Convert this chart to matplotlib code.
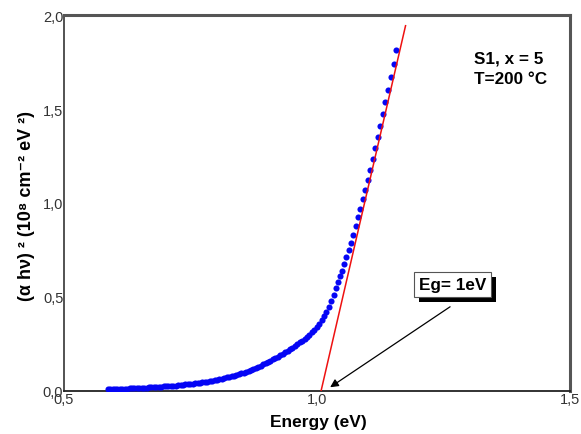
import matplotlib
matplotlib.use("Agg")
import matplotlib.pyplot as plt
import matplotlib.patheffects as pe
from matplotlib.ticker import FixedLocator, FuncFormatter

plt.rcParams['font.family'] = ['Liberation Sans', 'DejaVu Sans']

# ---- data ----
energy_low = [0.5865, 0.5913, 0.5961, 0.6009, 0.6057, 0.6105, 0.6153, 0.6201, 0.6249, 0.6297,
              0.6345, 0.6393, 0.6441, 0.6489, 0.6537, 0.6585, 0.6633, 0.6681, 0.6729, 0.6777,
              0.6825, 0.6873, 0.6921, 0.6969, 0.7017, 0.7065, 0.7113, 0.7161, 0.7209, 0.7257,
              0.7305, 0.7353, 0.7401, 0.7449, 0.7497, 0.7545, 0.7593, 0.7641, 0.7689, 0.7737,
              0.7785, 0.7833, 0.7881, 0.7929, 0.7977, 0.8025, 0.8073, 0.8121, 0.8169, 0.8217,
              0.8265, 0.8313, 0.8361, 0.8409, 0.8457, 0.8505, 0.8553, 0.8601, 0.8649, 0.8697,
              0.8745, 0.8793, 0.8841, 0.8889, 0.8937, 0.8985, 0.9033, 0.9081, 0.9129, 0.9177,
              0.9225, 0.9273, 0.9321, 0.9369, 0.9417, 0.9465, 0.9513, 0.9561, 0.9609, 0.9657,
              0.9705, 0.9753, 0.9801, 0.9849, 0.9897, 0.9945, 0.9993, 1.0041, 1.0089, 1.0137,
              1.0185, 1.0233, 1.0281, 1.0329, 1.0377, 1.0415]
absorb_low = [0.010, 0.010, 0.011, 0.011, 0.012, 0.012, 0.012, 0.013, 0.013, 0.014,
              0.014, 0.015, 0.015, 0.016, 0.016, 0.017, 0.018, 0.019, 0.020, 0.020,
              0.021, 0.022, 0.023, 0.024, 0.025, 0.026, 0.027, 0.028, 0.029, 0.031,
              0.032, 0.033, 0.035, 0.036, 0.038, 0.039, 0.041, 0.043, 0.045, 0.046,
              0.048, 0.050, 0.052, 0.055, 0.057, 0.060, 0.063, 0.066, 0.069, 0.072,
              0.075, 0.079, 0.082, 0.086, 0.090, 0.094, 0.098, 0.102, 0.107, 0.112,
              0.117, 0.123, 0.129, 0.135, 0.141, 0.147, 0.154, 0.161, 0.168, 0.175,
              0.182, 0.190, 0.198, 0.206, 0.214, 0.222, 0.231, 0.240, 0.249, 0.258,
              0.268, 0.278, 0.289, 0.300, 0.312, 0.326, 0.341, 0.357, 0.376, 0.397,
              0.421, 0.448, 0.478, 0.511, 0.549, 0.578]
energy_high = [1.0453, 1.0492, 1.0537, 1.0577, 1.0624, 1.0669, 1.0715, 1.0762, 1.0807, 1.0852,
               1.0900, 1.0951, 1.1004, 1.1049, 1.1102, 1.1148, 1.1201, 1.1254, 1.1305, 1.1352,
               1.1404, 1.1457, 1.1516, 1.1569]
absorb_high = [0.610, 0.640, 0.676, 0.711, 0.752, 0.789, 0.831, 0.879, 0.924, 0.968,
               1.021, 1.071, 1.122, 1.176, 1.232, 1.291, 1.349, 1.411, 1.472, 1.539,
               1.603, 1.670, 1.741, 1.814]
fit_x = [1.008, 1.175]
fit_y = [0.0, 1.943]
x_ticks = [0.5, 1.0, 1.5]
y_ticks = [0.0, 0.5, 1.0, 1.5, 2.0]
arrow_tail = (1.263, 0.448)
arrow_head = (1.026, 0.020)

energy = energy_low + energy_high
absorb = absorb_low + absorb_high

fig = plt.figure(figsize=(5.81, 4.35), dpi=100)
ax = fig.add_axes([64/581, 1-392/435, (570-64)/581, (392-16)/435])

ax.plot(energy, absorb, linestyle='none', marker='o', markersize=4.4,
        color='#0505f5', markeredgewidth=0, zorder=3)
ax.plot(fit_x, fit_y, color='#ee1111', linewidth=1.1, zorder=4)

ax.set_xlim(0.5, 1.5)
ax.set_ylim(0.0, 2.0)
ax.xaxis.set_major_locator(FixedLocator(x_ticks))
ax.yaxis.set_major_locator(FixedLocator(y_ticks))
fmt = FuncFormatter(lambda v, p: f"{v:.1f}".replace('.', ','))
ax.xaxis.set_major_formatter(fmt)
ax.yaxis.set_major_formatter(fmt)
ax.tick_params(axis='both', length=0, labelsize=10.5, colors='#333333')
ax.tick_params(axis='y', pad=0.5)
ax.tick_params(axis='x', pad=0.5)

for s in ['top', 'right']:
    ax.spines[s].set_color('#555555')
    ax.spines[s].set_linewidth(2.2)
ax.spines['left'].set_color('#444444')
ax.spines['left'].set_linewidth(1.3)
ax.spines['bottom'].set_color('#222222')
ax.spines['bottom'].set_linewidth(1.3)

fig.text(318/581, 1-423/435, 'Energy (eV)', ha='center', va='center',
         fontsize=12.5, fontweight='bold')
fig.text(27/581, 1-206/435, '(\u03b1 h\u03bd) \u00b2 (10\u2078 cm\u207b\u00b2 eV \u00b2)',
         ha='center', va='center', rotation=90, fontsize=13, fontweight='bold')

ax.text(1.311, 1.771, 'S1, x = 5', ha='left', va='center', fontsize=12.3, fontweight='bold')
ax.text(1.311, 1.660, 'T=200 \u00b0C', ha='left', va='center', fontsize=12.3, fontweight='bold')

ax.annotate('', xy=arrow_head, xytext=arrow_tail,
            arrowprops=dict(arrowstyle='-|>', color='black', lw=0.9,
                            mutation_scale=12, shrinkA=0, shrinkB=0))

eg = ax.text(1.2677, 0.566, 'Eg= 1eV', ha='center', va='center', fontsize=12.3,
             fontweight='bold', color='black',
             bbox=dict(boxstyle='square,pad=0.3', facecolor='white', edgecolor='#555555', lw=0.8),
             zorder=6)
eg.get_bbox_patch().set_path_effects([
    pe.SimplePatchShadow(offset=(3.5, -3.5), shadow_rgbFace='black', alpha=1.0),
    pe.Normal()])

fig.savefig('out.png', dpi=100)
